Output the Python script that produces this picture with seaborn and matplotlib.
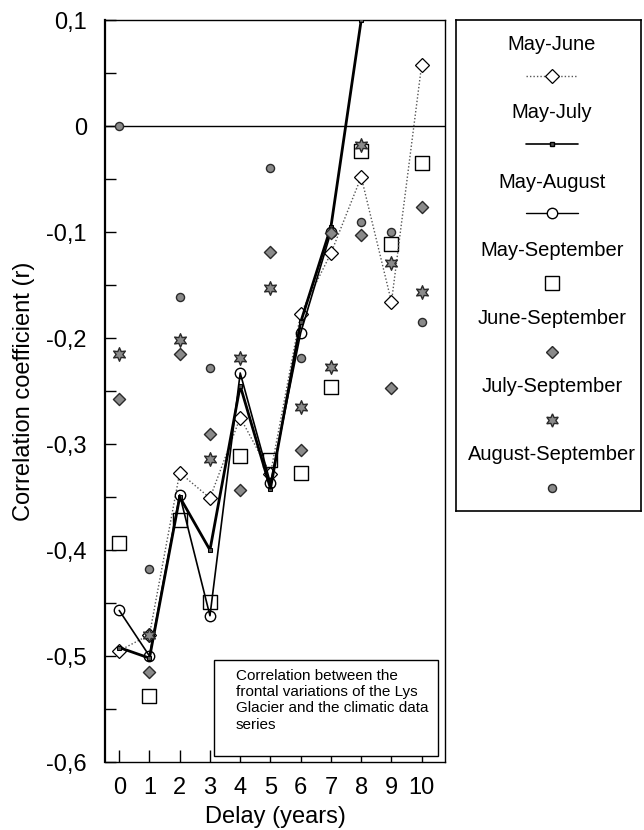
import numpy as np
import matplotlib
matplotlib.use("Agg")
import matplotlib.pyplot as plt
import seaborn as sns
from matplotlib.patches import Rectangle
from matplotlib.lines import Line2D

# ---------------- data ----------------
delay = [0, 1, 2, 3, 4, 5, 6, 7, 8, 9, 10]
nan = np.nan
may_june = [-0.495, -0.480, -0.327, -0.351, -0.275, -0.328, -0.177, -0.120, -0.048, -0.166, 0.058]
may_july = [-0.492, -0.502, -0.350, -0.400, -0.245, -0.342, -0.185, -0.095, 0.100, nan, nan]
may_august = [-0.457, -0.500, -0.348, -0.462, -0.233, -0.337, -0.195, -0.100, nan, nan, nan]
may_september = [-0.393, -0.538, -0.372, -0.449, -0.311, -0.315, -0.327, -0.246, -0.024, -0.111, -0.035]
june_september = [-0.258, -0.515, -0.215, -0.291, -0.343, -0.119, -0.306, -0.101, -0.103, -0.247, -0.076]
july_september = [-0.215, -0.480, -0.202, -0.314, -0.219, -0.153, -0.265, -0.227, -0.018, -0.129, -0.157]
august_september = [0.000, -0.418, -0.161, -0.228, nan, -0.040, -0.219, nan, -0.091, -0.100, -0.185]

series_names = ["May-June", "May-July", "May-August", "May-September",
                "June-September", "July-September", "August-September"]
y_tick_values = [0.1, 0.0, -0.1, -0.2, -0.3, -0.4, -0.5, -0.6]
y_tick_labels = ["0,1", "0", "-0,1", "-0,2", "-0,3", "-0,4", "-0,5", "-0,6"]
x_tick_labels = ["0", "1", "2", "3", "4", "5", "6", "7", "8", "9", "10"]
note_text = ("Correlation between the\nfrontal variations of the Lys\n"
             "Glacier and the climatic data\nseries")

# ---------------- style ----------------
sns.set_style("ticks")
plt.rcParams["font.family"] = ["Liberation Sans", "DejaVu Sans"]
plt.rcParams["text.color"] = "black"
plt.rcParams["axes.labelcolor"] = "black"
plt.rcParams["xtick.color"] = "black"
plt.rcParams["ytick.color"] = "black"
plt.rcParams["axes.edgecolor"] = "black"

W, H = 644, 830
fig = plt.figure(figsize=(W / 100, H / 100), dpi=100)
L, R, T, B = 105, 445, 20, 762
ax = fig.add_axes([L / W, 1 - B / H, (R - L) / W, (B - T) / H])

grey_fill = "#8a8a8a"
dark_edge = "#2a2a2a"

ax.axhline(0, color="black", lw=1.0, zorder=1)

# lines
sns.lineplot(x=delay, y=may_june, ax=ax, color="#555555", lw=1.0, linestyle=(0, (1, 1.5)),
             marker="D", markersize=7, markerfacecolor="white", markeredgecolor="black",
             markeredgewidth=0.9, zorder=3)
sns.lineplot(x=delay, y=may_july, ax=ax, color="black", lw=2.0,
             marker="s", markersize=3.5, markerfacecolor="#555555", markeredgecolor="black",
             zorder=4)
sns.lineplot(x=delay, y=may_august, ax=ax, color="black", lw=1.2,
             marker="o", markersize=7.5, markerfacecolor="none", markeredgecolor="black",
             markeredgewidth=1.0, zorder=4)

# scatter-only series
sns.scatterplot(x=delay, y=may_september, ax=ax, marker="s", s=105,
                facecolor="white", edgecolor="black", linewidth=1.0, zorder=2)
sns.scatterplot(x=delay, y=june_september, ax=ax, marker="D", s=38,
                facecolor=grey_fill, edgecolor=dark_edge, linewidth=1.0, zorder=5)
sns.scatterplot(x=delay, y=july_september, ax=ax, marker=(6, 1, 0), s=95,
                facecolor=grey_fill, edgecolor=dark_edge, linewidth=1.0, zorder=5)
sns.scatterplot(x=delay, y=august_september, ax=ax, marker="o", s=34,
                facecolor=grey_fill, edgecolor=dark_edge, linewidth=1.0, zorder=5)

ax.set_xlim(-0.47, 10.77)
ax.set_ylim(-0.6, 0.1)
ax.set_yticks(y_tick_values)
ax.set_yticklabels(y_tick_labels)
ax.set_yticks(np.arange(-0.55, 0.1, 0.1), minor=True)
ax.set_xticks(delay)
ax.set_xticklabels(x_tick_labels)
ax.tick_params(axis="y", which="both", direction="in", length=8, width=1.0,
               labelsize=17, pad=13)
ax.tick_params(axis="x", which="both", direction="in", length=9, width=1.0,
               labelsize=17, pad=11)
for side in ["top", "right", "bottom"]:
    ax.spines[side].set_linewidth(1.0)
ax.spines["left"].set_linewidth(1.6)
ax.set_xlabel("Delay (years)", fontsize=17, labelpad=5)
ax.set_ylabel("Correlation coefficient (r)", fontsize=17, labelpad=8)

# note box
nx0, nx1, ny0, ny1 = 214, 438, 660, 756
ax.add_patch(Rectangle(((nx0 - L) / (R - L), (B - ny1) / (B - T)),
                       (nx1 - nx0) / (R - L), (ny1 - ny0) / (B - T),
                       transform=ax.transAxes, facecolor="white", edgecolor="black",
                       lw=1.0, zorder=6))
ax.text((236 - L) / (R - L), (B - 669) / (B - T), note_text, transform=ax.transAxes,
        ha="left", va="top", fontsize=11, linespacing=1.2, zorder=7)

# legend panel
lx0, lx1, ly0, ly1 = 456, 641, 20, 511
lax = fig.add_axes([lx0 / W, 1 - ly1 / H, (lx1 - lx0) / W, (ly1 - ly0) / H])
lax.set_xlim(lx0, lx1)
lax.set_ylim(ly1, ly0)
lax.set_xticks([])
lax.set_yticks([])
for sp in lax.spines.values():
    sp.set_linewidth(1.2)
    sp.set_color("black")

cx = 552
text_y = [45, 113, 182, 250, 318, 386, 454]
mark_y = [76, 144, 213, 283, 352, 420, 488]
for name, ty in zip(series_names, text_y):
    lax.text(cx, ty, name, ha="center", va="center", fontsize=14.5)

lw_half = 26
lax.add_line(Line2D([cx - lw_half, cx + lw_half], [mark_y[0]] * 2, color="#555555", lw=1.0,
                    linestyle=(0, (1, 1.5))))
lax.add_line(Line2D([cx], [mark_y[0]], marker="D", markersize=7, markerfacecolor="white",
                    markeredgecolor="black", markeredgewidth=0.9, linestyle="none"))
lax.add_line(Line2D([cx - lw_half, cx + lw_half], [mark_y[1]] * 2, color="black", lw=1.2))
lax.add_line(Line2D([cx], [mark_y[1]], marker="s", markersize=3.5, markerfacecolor="#555555",
                    markeredgecolor="black", linestyle="none"))
lax.add_line(Line2D([cx - lw_half, cx + lw_half], [mark_y[2]] * 2, color="black", lw=1.0))
lax.add_line(Line2D([cx], [mark_y[2]], marker="o", markersize=7.5, markerfacecolor="white",
                    markeredgecolor="black", linestyle="none"))
lax.add_line(Line2D([cx], [mark_y[3]], marker="s", markersize=10, markerfacecolor="white",
                    markeredgecolor="black", linestyle="none"))
lax.add_line(Line2D([cx], [mark_y[4]], marker="D", markersize=6, markerfacecolor=grey_fill,
                    markeredgecolor=dark_edge, linestyle="none"))
lax.add_line(Line2D([cx], [mark_y[5]], marker=(6, 1, 0), markersize=9.5,
                    markerfacecolor=grey_fill, markeredgecolor=dark_edge, linestyle="none"))
lax.add_line(Line2D([cx], [mark_y[6]], marker="o", markersize=5.8, markerfacecolor=grey_fill,
                    markeredgecolor=dark_edge, linestyle="none"))

fig.savefig("out.png", dpi=100)
